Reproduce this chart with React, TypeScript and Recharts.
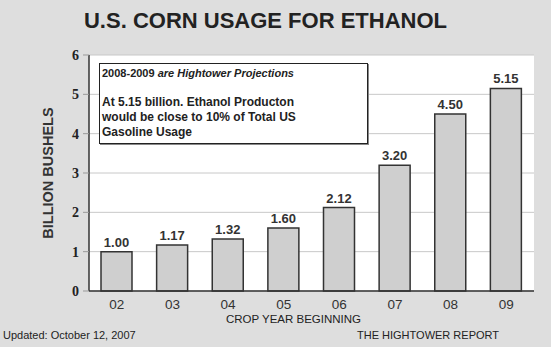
import React from "react";
import {
  BarChart,
  Bar,
  XAxis,
  YAxis,
  CartesianGrid,
  LabelList,
  Label,
} from "recharts";

const years = ["02", "03", "04", "05", "06", "07", "08", "09"];
const usage = [1.0, 1.17, 1.32, 1.6, 2.12, 3.2, 4.5, 5.15];
const yTicks = [0, 1, 2, 3, 4, 5, 6];
const boundaryTicks = [1, 2, 3, 4, 5, 6, 7];

const data = years.map((y, i) => ({ year: y, value: usage[i] }));

const W = 551;
const H = 347;

export default function App() {
  return (
    <div
      style={{
        position: "absolute",
        left: 0,
        top: 0,
        width: W,
        height: H,
        background: "#dedede",
        fontFamily: "Arial, 'Liberation Sans', sans-serif",
        overflow: "hidden",
      }}
    >
      <div
        style={{
          position: "absolute",
          left: 0,
          width: W,
          top: 8,
          textAlign: "center",
          fontSize: 22,
          fontWeight: "bold",
          color: "#222",
          marginLeft: -10,
        }}
      >
        U.S. CORN USAGE FOR ETHANOL
      </div>
      <div style={{ position: "absolute", left: 0, top: 0 }}>
        <BarChart
          width={W}
          height={H}
          data={data}
          margin={{ top: 55, right: 17, bottom: 0, left: 0 }}
        >
          <CartesianGrid vertical={false} stroke="#c8c8c8" fill="#ffffff" />
          <XAxis
            xAxisId="bounds"
            type="number"
            domain={[0, 8]}
            ticks={boundaryTicks}
            height={0}
            axisLine={false}
            tickLine={{ stroke: "#666", strokeWidth: 1 }}
            tickSize={4}
            tickFormatter={() => ""}
          />
          <XAxis
            dataKey="year"
            axisLine={{ stroke: "#333", strokeWidth: 1.5 }}
            tickLine={false}
            tickSize={5}
            tickMargin={3}
            tick={{ fill: "#333", fontSize: 13.5, fontFamily: "Liberation Sans, Arial" }}
            height={56}
          />
          <XAxis
            xAxisId="top"
            orientation="top"
            dataKey="year"
            axisLine={{ stroke: "#333", strokeWidth: 1.5 }}
            tick={false}
            tickLine={false}
            height={0}
          />
          <YAxis
            domain={[0, 6]}
            ticks={yTicks}
            width={89}
            axisLine={{ stroke: "#333", strokeWidth: 1.5 }}
            tickLine={{ stroke: "#999" }}
            tickSize={6}
            tickMargin={4}
            tick={{
              fill: "#222",
              fontSize: 14,
              fontWeight: "bold",
              fontFamily: "Liberation Serif, Times New Roman, serif",
            }}
          >
            <Label
              content={({ viewBox }: any) => {
                const cy = viewBox.y + viewBox.height / 2;
                return (
                  <text
                    x={53}
                    y={cy}
                    transform={`rotate(-90 53 ${cy})`}
                    textAnchor="middle"
                    fontSize={14.5}
                    fontWeight="bold"
                    fill="#333"
                    fontFamily="Liberation Sans, Arial"
                  >
                    BILLION BUSHELS
                  </text>
                );
              }}
            />
          </YAxis>
          <YAxis
            yAxisId="right"
            orientation="right"
            domain={[0, 6]}
            width={0}
            tick={false}
            tickLine={false}
            axisLine={{ stroke: "#333", strokeWidth: 1.5 }}
          />
          <Bar
            dataKey="value"
            fill="#cfcfcf"
            stroke="#333"
            strokeWidth={1.5}
            barSize={31}
            isAnimationActive={false}
          >
            <LabelList
              dataKey="value"
              position="top"
              offset={5}
              formatter={(v: any) => Number(v).toFixed(2)}
              style={{
                fill: "#333",
                fontSize: 13,
                fontWeight: "bold",
                fontFamily: "Liberation Sans, Arial",
              }}
            />
          </Bar>
        </BarChart>
      </div>
      <div
        style={{
          position: "absolute",
          left: 99,
          top: 63,
          width: 265,
          height: 77,
          background: "#fff",
          border: "1.5px solid #222",
          boxShadow: "1px 1px 0 #888",
          fontSize: 12,
          fontWeight: "bold",
          color: "#222",
          padding: "2px 0 0 2px",
          boxSizing: "content-box",
          lineHeight: "15px",
        }}
      >
        <div style={{ fontSize: 11 }}>
          2008-2009 <i>are Hightower Projections</i>
        </div>
        <div style={{ marginTop: 14 }}>At 5.15 billion. Ethanol Producton</div>
        <div>would be close to 10% of Total US</div>
        <div>Gasoline Usage</div>
      </div>
      <div
        style={{
          position: "absolute",
          left: 220,
          width: 147,
          top: 313,
          textAlign: "center",
          fontSize: 11.5,
          lineHeight: "12px",
          color: "#222",
          whiteSpace: "nowrap",
        }}
      >
        CROP YEAR BEGINNING
      </div>
      <div
        style={{
          position: "absolute",
          left: 3,
          top: 329,
          fontSize: 11,
          color: "#222",
          whiteSpace: "nowrap",
        }}
      >
        Updated: October 12, 2007
      </div>
      <div
        style={{
          position: "absolute",
          left: 357,
          top: 329,
          fontSize: 11,
          color: "#222",
          whiteSpace: "nowrap",
        }}
      >
        THE HIGHTOWER REPORT
      </div>
    </div>
  );
}
